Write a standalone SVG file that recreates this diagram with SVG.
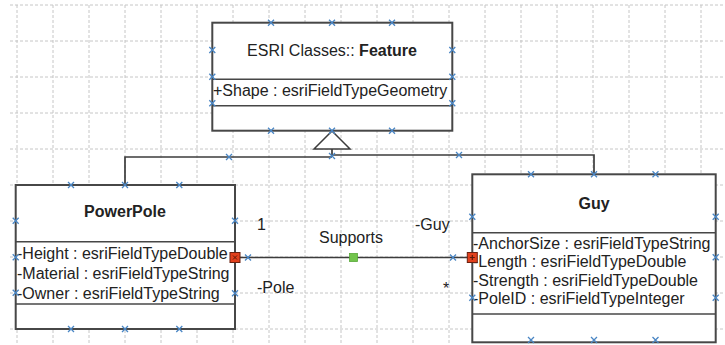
<svg xmlns="http://www.w3.org/2000/svg" width="725" height="345" viewBox="0 0 725 345">
<defs>
<style>
.grid line{stroke:#c6c6c6;stroke-width:1;stroke-dasharray:3,2}
.box{fill:#fff;stroke:#474747;stroke-width:2}
.div{stroke:#474747;stroke-width:1.6}
.conn{fill:none;stroke:#3c3c3c;stroke-width:1.7}
.t{font-family:"Liberation Sans",Arial,sans-serif;font-size:16px;fill:#222}
.b{font-weight:bold}
.mk{fill:none;stroke:#4a86c4;stroke-width:1.3}
</style>
<path id="x" class="mk" d="M-3,-3L3,3M-3,3L3,-3"/>
</defs>
<rect width="725" height="345" fill="#fff"/>
<g class="grid">
<line x1="17" y1="5" x2="17" y2="345"/><line x1="53" y1="5" x2="53" y2="345"/><line x1="89" y1="5" x2="89" y2="345"/><line x1="125" y1="5" x2="125" y2="345"/><line x1="161" y1="5" x2="161" y2="345"/><line x1="197" y1="5" x2="197" y2="345"/><line x1="233" y1="5" x2="233" y2="345"/><line x1="269" y1="5" x2="269" y2="345"/><line x1="305" y1="5" x2="305" y2="345"/><line x1="341" y1="5" x2="341" y2="345"/><line x1="377" y1="5" x2="377" y2="345"/><line x1="413" y1="5" x2="413" y2="345"/><line x1="449" y1="5" x2="449" y2="345"/><line x1="485" y1="5" x2="485" y2="345"/><line x1="521" y1="5" x2="521" y2="345"/><line x1="557" y1="5" x2="557" y2="345"/><line x1="593" y1="5" x2="593" y2="345"/><line x1="629" y1="5" x2="629" y2="345"/><line x1="665" y1="5" x2="665" y2="345"/><line x1="701" y1="5" x2="701" y2="345"/>
<line x1="10" y1="5" x2="725" y2="5"/><line x1="10" y1="41" x2="725" y2="41"/><line x1="10" y1="77" x2="725" y2="77"/><line x1="10" y1="113" x2="725" y2="113"/><line x1="10" y1="149" x2="725" y2="149"/><line x1="10" y1="185" x2="725" y2="185"/><line x1="10" y1="221" x2="725" y2="221"/><line x1="10" y1="257" x2="725" y2="257"/><line x1="10" y1="293" x2="725" y2="293"/><line x1="10" y1="329" x2="725" y2="329"/>
</g>
<g id="feature">
<rect class="box" x="212.3" y="22.7" width="240" height="108"/>
<line class="div" x1="212.3" y1="79.3" x2="452.3" y2="79.3"/>
<line class="div" x1="212.3" y1="105.7" x2="452.3" y2="105.7"/>
<text class="t" x="332" y="55.5" text-anchor="middle">ESRI Classes:: <tspan class="b">Feature</tspan></text>
<text class="t" x="213" y="96">+Shape : esriFieldTypeGeometry</text>
<use href="#x" x="271" y="22.7"/><use href="#x" x="332" y="22.7"/><use href="#x" x="392" y="22.7"/>
<use href="#x" x="271" y="130.7"/><use href="#x" x="392" y="130.7"/>
<use href="#x" x="212.3" y="50"/><use href="#x" x="212.3" y="76.7"/><use href="#x" x="212.3" y="103.3"/>
<use href="#x" x="452.3" y="50"/><use href="#x" x="452.3" y="76.7"/><use href="#x" x="452.3" y="103.3"/>
</g>
<g id="powerpole">
<rect class="box" x="15.7" y="185" width="219.3" height="144"/>
<line class="div" x1="15.7" y1="241.7" x2="235" y2="241.7"/>
<line class="div" x1="15.7" y1="304" x2="235" y2="304"/>
<text class="t b" x="125" y="217" text-anchor="middle">PowerPole</text>
<text class="t" x="17" y="259">-Height : esriFieldTypeDouble</text>
<text class="t" x="17" y="279">-Material : esriFieldTypeString</text>
<text class="t" x="17" y="298.5">-Owner : esriFieldTypeString</text>
<use href="#x" x="71" y="185"/><use href="#x" x="179.3" y="185"/>
<use href="#x" x="71" y="329"/><use href="#x" x="125" y="329"/><use href="#x" x="179.3" y="329"/>
<use href="#x" x="15.7" y="220.7"/><use href="#x" x="15.7" y="257.3"/><use href="#x" x="15.7" y="292.7"/>
<use href="#x" x="235" y="220.7"/><use href="#x" x="235" y="293.3"/>
</g>
<g id="guy">
<rect class="box" x="472.3" y="174.3" width="243.4" height="168"/>
<line class="div" x1="472.3" y1="232.7" x2="715.7" y2="232.7"/>
<line class="div" x1="472.3" y1="314" x2="715.7" y2="314"/>
<text class="t b" x="594" y="209" text-anchor="middle">Guy</text>
<text class="t" x="473" y="248.7">-AnchorSize : esriFieldTypeString</text>
<text class="t" x="473" y="267.3">-Length : esriFieldTypeDouble</text>
<text class="t" x="473" y="285.5">-Strength : esriFieldTypeDouble</text>
<text class="t" x="473" y="304">-PoleID : esriFieldTypeInteger</text>
<use href="#x" x="531" y="174.3"/><use href="#x" x="655.5" y="174.3"/>
<use href="#x" x="531" y="340"/><use href="#x" x="594" y="340"/><use href="#x" x="655.5" y="340"/>
<use href="#x" x="472.3" y="216.7"/><use href="#x" x="472.3" y="297.7"/>
<use href="#x" x="715.7" y="216.7"/><use href="#x" x="715.7" y="257.3"/><use href="#x" x="715.7" y="297.7"/>
</g>
<g id="connectors">
<path class="conn" d="M332,149V156.5M332,157H125V185M332,155H594V174.3"/>
<path d="M332,131L314,149H350Z" fill="#fff" stroke="#3c3c3c" stroke-width="1.5"/>
<line class="conn" x1="235" y1="257.5" x2="472" y2="257.5"/>
<use href="#x" x="229" y="157"/><use href="#x" x="332" y="156"/><use href="#x" x="459" y="155"/>
<use href="#x" x="332" y="130.7"/><use href="#x" x="125" y="185"/><use href="#x" x="594" y="174.3"/>
<use href="#x" x="248" y="257.5"/><use href="#x" x="453" y="257.5"/>
<rect x="349.5" y="253.5" width="8" height="8" fill="#72c44c" stroke="#58a838" stroke-width="0.8"/>
<rect x="230" y="252.5" width="10" height="10" fill="#e2401c" stroke="#6a2010" stroke-width="1"/>
<path d="M233,255.5l4,4m0,-4l-4,4" stroke="#5a1a0a" stroke-width="1"/>
<rect x="467.3" y="252.5" width="10" height="10" fill="#e2401c" stroke="#6a2010" stroke-width="1"/>
<path d="M469.8,257.5h5m-2.5,-2.5v5" stroke="#5a1a0a" stroke-width="1.2"/>
<text class="t" x="257" y="229.5">1</text>
<text class="t" x="415" y="229.5">-Guy</text>
<text class="t" x="319" y="242.5">Supports</text>
<text class="t" x="257" y="293">-Pole</text>
<text class="t" x="443" y="294">*</text>
</g>
</svg>
